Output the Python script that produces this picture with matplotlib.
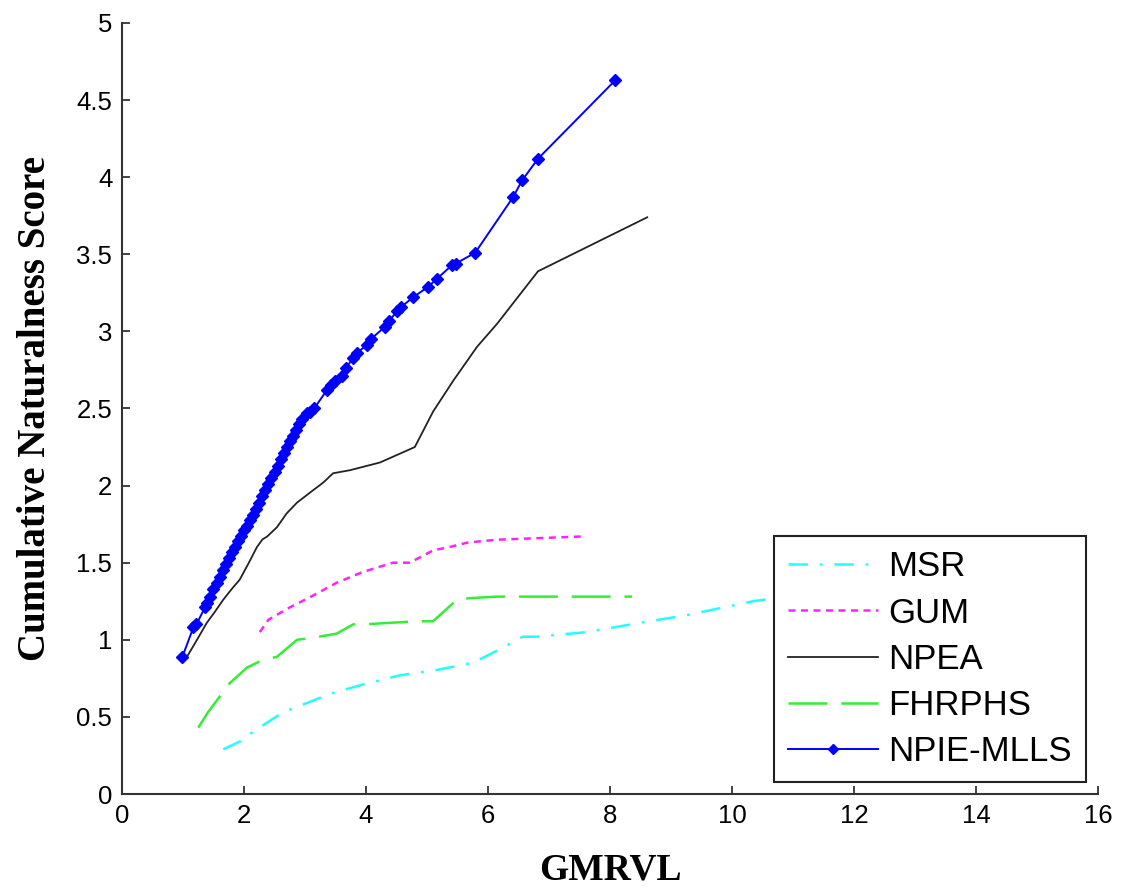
import matplotlib
matplotlib.use("Agg")
import matplotlib.pyplot as plt

# ---------------- data ----------------
msr_x = [1.66, 1.93, 2.21, 2.64, 3.03, 3.41, 3.95, 4.56, 5.10, 5.75, 6.15, 6.57, 6.80, 7.62, 8.49, 9.26, 10.34, 10.90]
msr_y = [0.29, 0.34, 0.42, 0.53, 0.59, 0.65, 0.71, 0.77, 0.80, 0.85, 0.93, 1.02, 1.02, 1.05, 1.11, 1.16, 1.25, 1.28]

gum_x = [2.26, 2.40, 2.75, 3.10, 3.52, 3.95, 4.44, 4.72, 5.10, 5.35, 5.66, 5.90, 6.20, 7.54]
gum_y = [1.05, 1.13, 1.21, 1.28, 1.37, 1.44, 1.50, 1.50, 1.58, 1.60, 1.63, 1.64, 1.65, 1.67]

npea_x = [1.08, 1.20, 1.39, 1.52, 1.66, 1.80, 1.93, 2.08, 2.21, 2.30, 2.38, 2.54, 2.70, 2.87, 3.10, 3.30,
          3.46, 3.74, 4.23, 4.80, 5.10, 5.43, 5.82, 6.15, 6.82, 8.61]
npea_y = [0.90, 0.98, 1.11, 1.18, 1.26, 1.33, 1.39, 1.50, 1.60, 1.65, 1.67, 1.73, 1.82, 1.89, 1.96, 2.02,
          2.08, 2.10, 2.15, 2.25, 2.48, 2.68, 2.90, 3.05, 3.39, 3.74]

fhr_x = [1.25, 1.41, 1.77, 2.05, 2.26, 2.54, 2.87, 3.08, 3.52, 3.79, 3.95, 4.84, 5.10, 5.49, 5.70, 6.15, 8.36]
fhr_y = [0.43, 0.53, 0.72, 0.82, 0.86, 0.89, 1.00, 1.01, 1.04, 1.10, 1.10, 1.12, 1.12, 1.26, 1.27, 1.28, 1.28]

npie_x = [0.99, 1.17, 1.22, 1.36, 1.40, 1.45, 1.50, 1.55, 1.60, 1.65, 1.70, 1.75, 1.80, 1.85, 1.90, 1.95,
          2.00, 2.05, 2.10, 2.15, 2.20, 2.25, 2.30, 2.35, 2.40, 2.45, 2.50, 2.55, 2.60, 2.65, 2.70, 2.75,
          2.80, 2.85, 2.90, 2.95, 3.03, 3.08, 3.15, 3.36, 3.42, 3.50, 3.61, 3.67, 3.79, 3.85, 4.01, 4.08,
          4.31, 4.38, 4.51, 4.58, 4.77, 5.02, 5.16, 5.41, 5.47, 5.79, 6.41, 6.56, 6.82, 8.09]
npie_y = [0.89, 1.08, 1.10, 1.21, 1.24, 1.28, 1.33, 1.37, 1.41, 1.45, 1.49, 1.53, 1.57, 1.60, 1.64, 1.67,
          1.71, 1.74, 1.78, 1.81, 1.85, 1.89, 1.93, 1.97, 2.01, 2.05, 2.09, 2.13, 2.17, 2.21, 2.25, 2.29,
          2.32, 2.36, 2.40, 2.43, 2.47, 2.48, 2.50, 2.62, 2.65, 2.68, 2.71, 2.76, 2.83, 2.86, 2.91, 2.95,
          3.03, 3.07, 3.13, 3.16, 3.22, 3.29, 3.34, 3.43, 3.44, 3.51, 3.87, 3.98, 4.12, 4.63]

series_names = ["MSR", "GUM", "NPEA", "FHRPHS", "NPIE-MLLS"]
x_ticks = [0, 2, 4, 6, 8, 10, 12, 14, 16]
x_tick_labels = ["0", "2", "4", "6", "8", "10", "12", "14", "16"]
y_ticks = [0, 0.5, 1, 1.5, 2, 2.5, 3, 3.5, 4, 4.5, 5]
y_tick_labels = ["0", "0.5", "1", "1.5", "2", "2.5", "3", "3.5", "4", "4.5", "5"]
x_label = "GMRVL"
y_label = "Cumulative Naturalness Score"

# ---------------- figure ----------------
plt.rcParams["lines.scale_dashes"] = False
fig = plt.figure(figsize=(11.34, 8.88), dpi=100)
ax = fig.add_axes([122 / 1134, 1 - 794 / 888, (1098 - 122) / 1134, (794 - 23) / 888])

lw = 1.8
ax.plot(msr_x, msr_y, color="#22ffff", lw=lw, dashes=(14, 8.5, 2, 8.5), label=series_names[0])
ax.plot(gum_x, gum_y, color="#ff22ff", lw=lw, dashes=(5, 4), label=series_names[1])
ax.plot(npea_x, npea_y, color="#222222", lw=1.3, label=series_names[2])
ax.plot(fhr_x, fhr_y, color="#33ee33", lw=lw, dashes=(28, 10), label=series_names[3])
ax.plot(npie_x, npie_y, color="#0000ff", lw=1.4, marker="D", markersize=6,
        markeredgecolor="#0000ff", markerfacecolor="#0000ff", label=series_names[4])

ax.set_xlim(0, 16)
ax.set_ylim(0, 5)
ax.set_xticks(x_ticks)
ax.set_xticklabels(x_tick_labels, fontfamily="Liberation Sans", fontsize=18.5)
ax.set_yticks(y_ticks)
ax.set_yticklabels(y_tick_labels, fontfamily="Liberation Sans", fontsize=18.5)
ax.tick_params(direction="in", length=6, width=1.2, pad=7, colors="#222222", labelcolor="black")

for s in ["top", "right"]:
    ax.spines[s].set_visible(False)
for s in ["left", "bottom"]:
    ax.spines[s].set_linewidth(1.5)
    ax.spines[s].set_color("#333333")

ax.set_xlabel(x_label, fontfamily="Liberation Serif", fontweight="bold", fontsize=27, labelpad=18)
ax.set_ylabel(y_label, fontfamily="Liberation Serif", fontweight="bold", fontsize=28, labelpad=16)

leg = ax.legend(loc="lower right", bbox_to_anchor=((1086 - 122) / 976, (794 - 782) / 771),
                borderaxespad=0, fancybox=False, framealpha=1, edgecolor="#222222",
                prop={"family": "Liberation Sans", "size": 25}, handlelength=2.6,
                handletextpad=0.3, labelspacing=0.38, borderpad=0.4, markerscale=0.8)
leg.get_frame().set_linewidth(1.5)

fig.savefig("out.png", dpi=100)
